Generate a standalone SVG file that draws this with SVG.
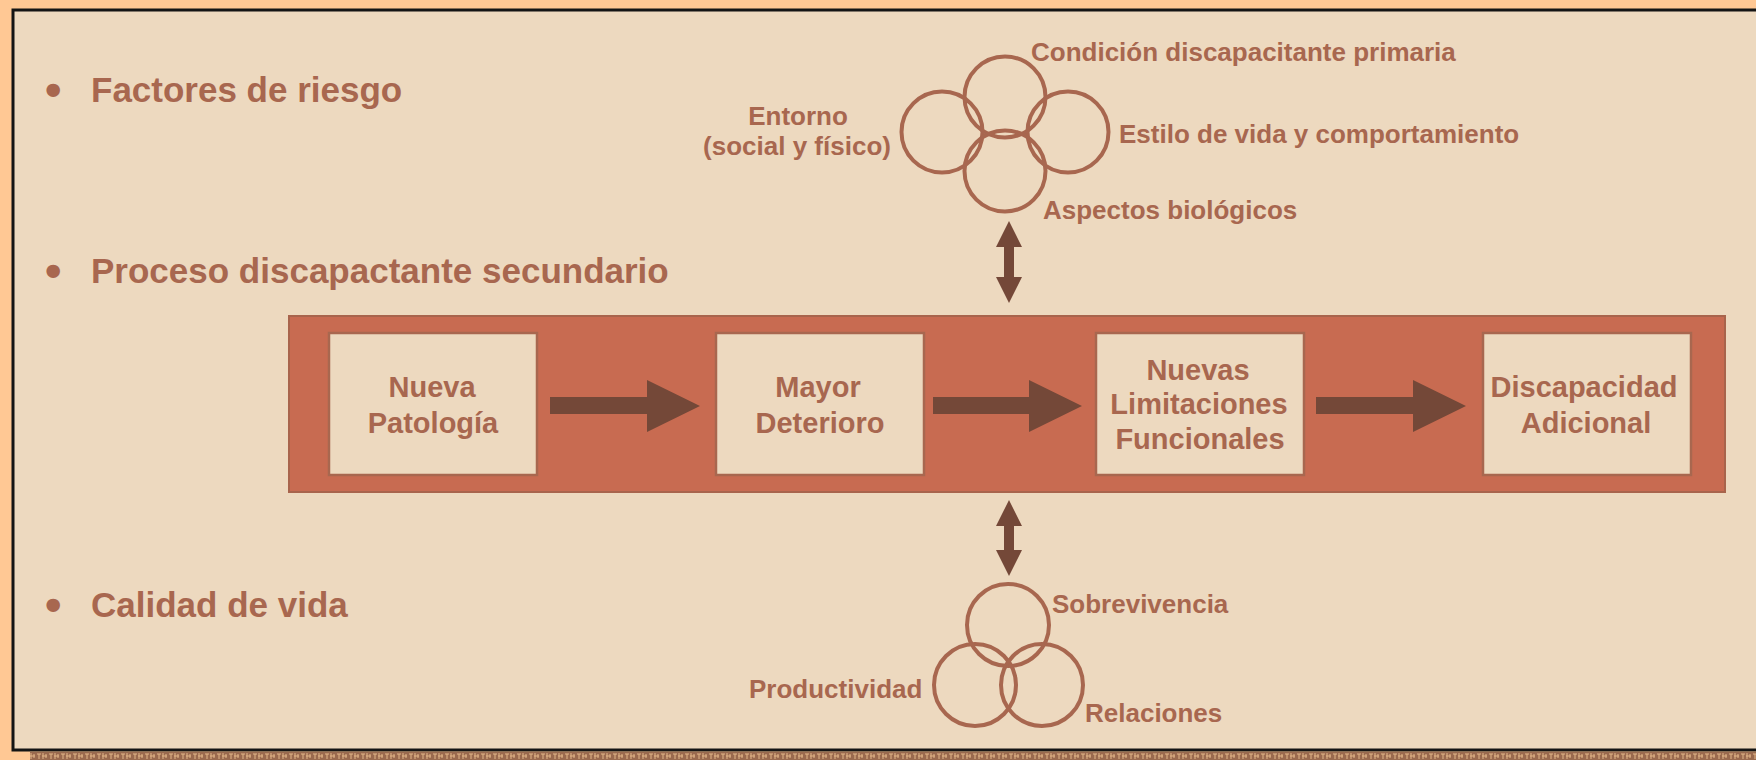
<svg xmlns="http://www.w3.org/2000/svg" width="1756" height="760" viewBox="0 0 1756 760">
  <style>
    .lbl { font-family: "Liberation Sans", Arial, sans-serif; font-weight: bold; fill: #A8674F; }
    .big { font-size: 35px; }
    .bul { font-size: 47px; }
    .sm { font-size: 26px; }
    .box-t { font-size: 29px; text-anchor: middle; }
    .box { fill: #EDD9BF; stroke: #A8674F; stroke-width: 2.5; }
    .ring { fill: none; stroke: #A8674F; stroke-width: 4; }
    .arr { fill: #744838; }
  </style>
  <defs>
    <pattern id="tex" x="0" y="752" width="12" height="8" patternUnits="userSpaceOnUse">
      <rect width="12" height="8" fill="#9A6A4E"/>
      <path d="M1 2h4M3 2v5M7 1v6M6 4h5M10 2v4" stroke="#E2B688" stroke-width="1" fill="none"/>
    </pattern>
  </defs>
  <rect x="0" y="0" width="1756" height="760" fill="#FFC894"/>
  <rect x="30" y="752" width="1726" height="8" fill="url(#tex)"/>
  <rect x="13" y="10" width="1760" height="740" fill="#EDD9BF" stroke="#141414" stroke-width="3"/>

  <g id="bullet-factores">
    <text class="lbl bul" x="45" y="106">•</text>
    <text class="lbl big" x="91" y="102">Factores de riesgo</text>
  </g>
  <g id="bullet-proceso">
    <text class="lbl bul" x="45" y="287">•</text>
    <text class="lbl big" x="91" y="283">Proceso discapactante secundario</text>
  </g>
  <g id="bullet-calidad">
    <text class="lbl bul" x="45" y="621">•</text>
    <text class="lbl big" x="91" y="617">Calidad de vida</text>
  </g>

  <g id="factores-venn">
    <circle class="ring" cx="1005" cy="97" r="40.5"/>
    <circle class="ring" cx="942" cy="132" r="40.5"/>
    <circle class="ring" cx="1068" cy="132" r="40.5"/>
    <circle class="ring" cx="1005" cy="171" r="40.5"/>
    <text class="lbl sm" x="1031" y="61">Condición discapacitante primaria</text>
    <text class="lbl sm" x="798" y="125" text-anchor="middle">Entorno</text>
    <text class="lbl sm" x="797" y="155" text-anchor="middle">(social y físico)</text>
    <text class="lbl sm" x="1119" y="143">Estilo de vida y comportamiento</text>
    <text class="lbl sm" x="1043" y="219">Aspectos biológicos</text>
  </g>

  <g id="proceso-panel">
    <rect x="289" y="316" width="1436" height="176" fill="#C86B51" stroke="#A8644C" stroke-width="2"/>
  </g>
  <g id="node-nueva-patologia">
    <rect class="box" x="329" y="333" width="208" height="142"/>
    <text class="lbl box-t" x="432" y="397">Nueva</text>
    <text class="lbl box-t" x="433" y="433">Patología</text>
  </g>
  <g id="node-mayor-deterioro">
    <rect class="box" x="716" y="333" width="208" height="142"/>
    <text class="lbl box-t" x="818" y="397">Mayor</text>
    <text class="lbl box-t" x="820" y="433">Deterioro</text>
  </g>
  <g id="node-nuevas-limitaciones">
    <rect class="box" x="1096" y="333" width="208" height="142"/>
    <text class="lbl box-t" x="1198" y="380">Nuevas</text>
    <text class="lbl box-t" x="1199" y="414">Limitaciones</text>
    <text class="lbl box-t" x="1200" y="449">Funcionales</text>
  </g>
  <g id="node-discapacidad-adicional">
    <rect class="box" x="1483" y="333" width="208" height="142"/>
    <text class="lbl box-t" x="1584" y="397">Discapacidad</text>
    <text class="lbl box-t" x="1586" y="433">Adicional</text>
  </g>

  <g id="calidad-venn">
    <circle class="ring" cx="1008" cy="625" r="41"/>
    <circle class="ring" cx="975" cy="685" r="41"/>
    <circle class="ring" cx="1042" cy="685" r="41"/>
    <text class="lbl sm" x="1052" y="613">Sobrevivencia</text>
    <text class="lbl sm" x="749" y="698">Productividad</text>
    <text class="lbl sm" x="1085" y="722">Relaciones</text>
  </g>

  <g id="connectors">
    <polygon class="arr" points="550,397 647,397 647,380 700,406 647,432 647,414 550,414"/>
    <polygon class="arr" points="933,397 1029,397 1029,380 1082,406 1029,432 1029,414 933,414"/>
    <polygon class="arr" points="1316,397 1413,397 1413,380 1466,406 1413,432 1413,414 1316,414"/>
    <polygon class="arr" points="1009,221 1022,247 1014,247 1014,277 1022,277 1009,303 996,277 1004,277 1004,247 996,247"/>
    <polygon class="arr" points="1009,500 1022,526 1014,526 1014,550 1022,550 1009,576 996,550 1004,550 1004,526 996,526"/>
  </g>
</svg>
